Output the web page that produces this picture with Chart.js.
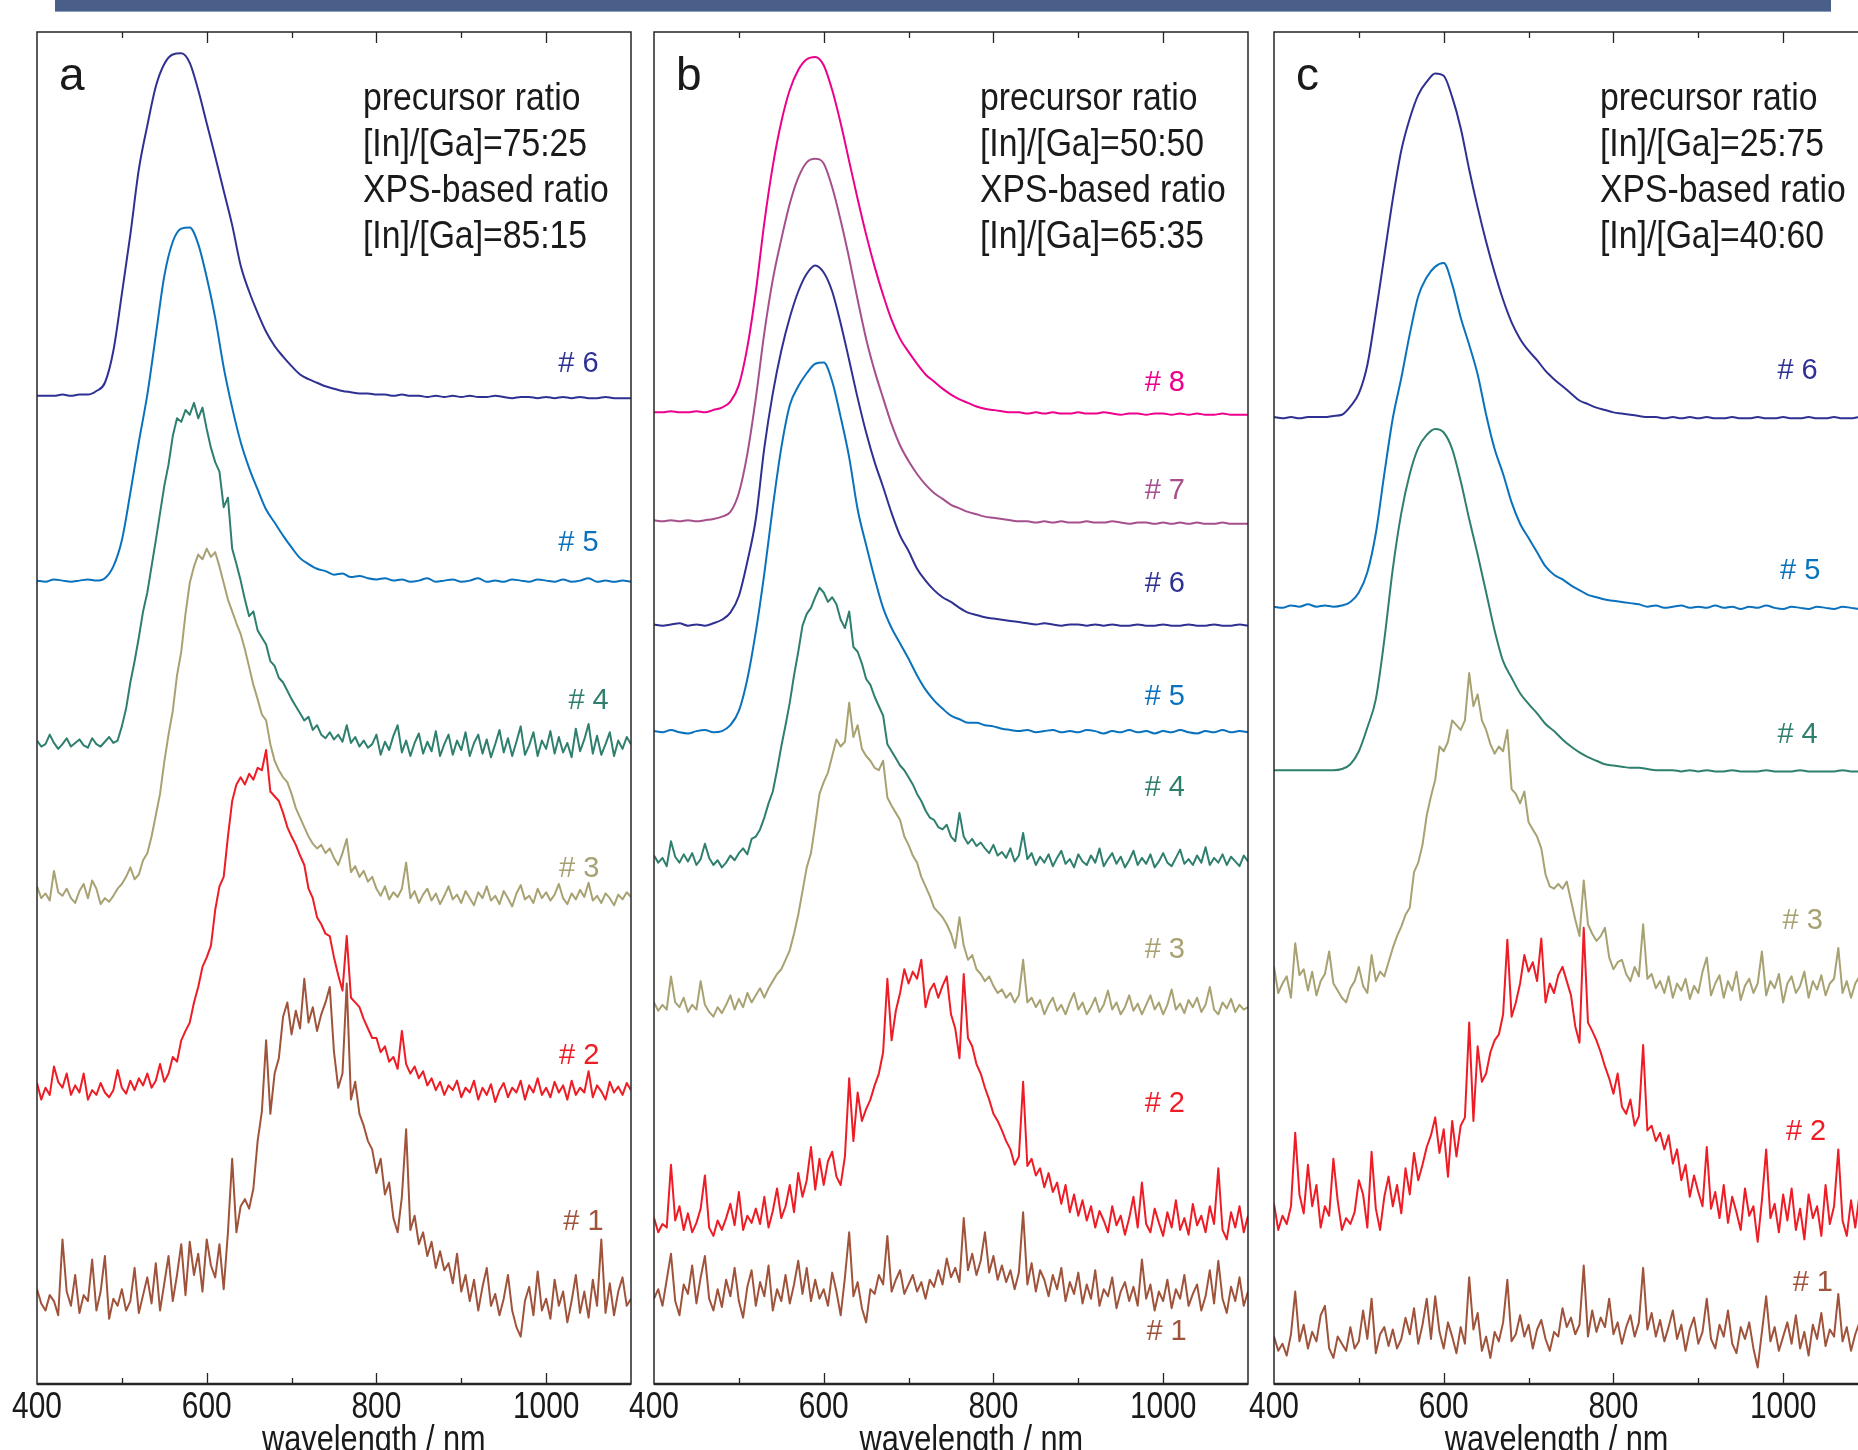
<!DOCTYPE html>
<html>
<head>
<meta charset="utf-8">
<script src="https://cdn.jsdelivr.net/npm/chart.js@4.4.0/dist/chart.umd.min.js"></script>
<style>
  html, body { margin: 0; padding: 0; background: #fff; width: 1858px; height: 1450px; overflow: hidden; }
  body { position: relative; }
  #banner { position: absolute; left: 55px; top: 0; width: 1776px; height: 11px; background: #4a5e8a; border-bottom: 1px solid #8d9cbd; }
  canvas { position: absolute; top: 0; }
</style>
</head>
<body>
<div id="banner"></div>
<canvas id="panelA" width="694" height="1450" style="left:-13px"></canvas>
<canvas id="panelB" width="694" height="1450" style="left:604px"></canvas>
<canvas id="panelC" width="694" height="1450" style="left:1224px"></canvas>
<script>
// wavelength grids (nm)
const wl5 = Array.from({ length: 141 }, (_, i) => 400 + 5 * i);
const wl10 = Array.from({ length: 71 }, (_, i) => 400 + 10 * i);

// PL intensity, arbitrary units, each trace already offset in the stack

// ---- panel a ----
const a6 = [
  834, 834, 834, 835, 834, 835, 835, 838, 845, 872,
  920, 970, 1025, 1062, 1095, 1114, 1122, 1123, 1115, 1092,
  1064, 1036, 1007, 978, 944, 922, 904, 888, 876, 867,
  859, 852, 848, 845, 842, 840, 838, 837, 836, 836,
  835, 835, 834, 835, 834, 834, 833, 834, 833, 834,
  833, 834, 833, 833, 834, 833, 832, 833, 833, 832,
  833, 832, 833, 832, 833, 832, 832, 833, 832, 832,
  832
];
const a5 = [
  678, 677, 679, 678, 677, 678, 679, 678, 680, 690,
  712, 752, 795, 835, 885, 935, 964, 975, 976, 962,
  934, 900, 858, 824, 795, 773, 755, 738, 727, 716,
  706, 697, 692, 688, 686, 683, 684, 681, 682, 680,
  679, 680, 678, 679, 677, 678, 680, 677, 678, 679,
  677, 678, 680, 677, 678, 677, 679, 678, 677, 679,
  678, 677, 679, 677, 678, 680, 677, 678, 677, 678,
  677
];
const a4 = [
  543, 538, 540, 548, 541, 536, 540, 545, 538, 541, 544, 539, 537, 545, 540, 538, 542, 546, 541, 543,
  555, 570, 592, 610, 630, 652, 668, 690, 712, 735, 758, 776, 800, 815, 812, 822, 818, 828, 815, 824,
  806, 790, 778, 770, 740, 748, 705, 692, 678, 662, 648, 652, 636, 630, 624, 610, 606, 596, 592, 585,
  578, 572, 566, 560, 563, 552, 556, 548, 545, 550, 544, 548, 542, 556, 541, 546, 538, 543, 537, 540,
  548, 531, 542, 535, 547, 556, 533, 543, 530, 541, 549, 532, 542, 534, 551, 530, 540, 548, 531, 543,
  535, 550, 530, 541, 548, 532, 544, 529, 540, 552, 533, 545, 530, 542, 555, 531, 539, 550, 530, 543,
  536, 551, 532, 546, 533, 541, 529, 553, 534, 544, 557, 532, 547, 531, 540, 550, 530, 543, 536, 546,
  540
];
const a3 = [
  420, 410, 414, 408, 433, 415, 412, 418, 410, 406, 416, 422, 410, 425, 418, 405, 410, 407, 412, 418,
  422, 428, 436, 426, 430, 442, 448, 462, 480, 498, 525, 548, 568, 598, 618, 650, 676, 690, 700, 696,
  705, 698, 702, 690, 676, 662, 652, 642, 633, 620, 605, 590, 578, 565, 560, 540, 526, 518, 512, 508,
  498, 486, 478, 470, 462, 456, 452, 455, 448, 452, 444, 438, 448, 460, 432, 437, 428, 433, 424, 428,
  418, 412, 420, 409, 415, 411, 418, 440, 410, 416, 406, 413, 418, 408, 414, 405, 412, 420, 409, 413,
  406, 416, 410, 404, 415, 410, 420, 408, 412, 405, 416, 410, 403, 414, 421, 409, 412, 406, 418, 410,
  415, 408, 413, 422, 410, 405, 414, 409, 417, 411, 423, 408, 412, 406, 414, 410, 404, 413, 409, 415,
  411
];
const a2 = [
  254, 240, 250, 244, 268, 255, 250, 262, 244, 252, 246, 262, 240, 248, 244, 254, 246, 242, 248, 265,
  250, 245, 256, 248, 258, 252, 262, 250, 256, 270, 255, 262, 276, 272, 290, 298, 305, 322, 335, 352,
  360, 370, 400, 420, 428, 462, 492, 506, 512, 506, 515, 510, 520, 518, 535, 500, 496, 492, 482, 470,
  462, 455, 446, 438, 418, 410, 394, 388, 380, 378, 360, 345, 332, 378, 326, 322, 318, 308, 300, 292,
  292, 280, 285, 272, 276, 266, 298, 270, 262, 268, 258, 264, 252, 258, 248, 255, 244, 252, 248, 256,
  242, 250, 246, 256, 240, 250, 244, 253, 238, 248, 254, 242, 250, 246, 256, 240, 252, 246, 258, 244,
  250, 242, 255, 246, 252, 240, 256, 244, 250, 246, 264, 242, 252, 247, 240, 255, 246, 251, 244, 254,
  248
];
const a1 = [
  80, 68, 62, 75, 70, 58, 122, 78, 66, 92, 60, 75, 70, 105, 62, 78, 108, 55, 72, 66,
  80, 62, 70, 98, 60, 75, 90, 68, 102, 62, 85, 108, 70, 92, 118, 75, 120, 92, 110, 78,
  122, 100, 90, 118, 80, 128, 190, 128, 150, 156, 148, 165, 205, 230, 290, 228, 262, 275, 310, 322,
  295, 315, 300, 342, 305, 318, 298, 312, 322, 335, 280, 250, 262, 338, 240, 255, 228, 218, 205, 198,
  178, 190, 160, 170, 140, 128, 158, 215, 130, 142, 118, 128, 108, 120, 98, 112, 96, 102, 85, 110,
  78, 92, 70, 88, 62, 82, 98, 66, 76, 58, 72, 92, 62, 48, 40, 70, 82, 58, 95, 62,
  72, 55, 88, 66, 78, 52, 70, 92, 60, 78, 56, 88, 66, 122, 60, 85, 58, 78, 90, 66,
  72
];

// ---- panel b ----
const b8 = [
  820, 820, 821, 820, 820, 821, 820, 822, 824, 829,
  843, 875, 922, 980, 1028, 1065, 1092, 1109, 1118, 1120,
  1113, 1092, 1064, 1032, 1000, 970, 943, 919, 898, 882,
  871, 861, 852, 846, 840, 835, 831, 828, 825, 823,
  822, 821, 820, 820, 819, 820, 819, 820, 819, 819,
  820, 819, 819, 820, 819, 818, 819, 819, 818, 819,
  819, 818, 819, 818, 819, 818, 818, 819, 818, 818,
  818
];
const b7 = [
  729, 728, 729, 728, 729, 728, 729, 730, 732, 736,
  752, 785, 832, 887, 932, 966, 996, 1018, 1031, 1034,
  1030, 1010, 982, 950, 915, 882, 855, 832, 810, 792,
  779, 768, 759, 752, 747, 742, 739, 736, 734, 732,
  731, 730, 729, 728, 728, 727, 728, 727, 728, 727,
  727, 728, 727, 727, 728, 727, 726, 727, 727, 726,
  727, 726, 727, 726, 727, 726, 726, 727, 726, 726,
  726
];
const b6 = [
  641, 640, 641, 642, 640, 641, 640, 642, 645, 651,
  665, 694, 730, 790, 836, 872, 900, 922, 937, 944,
  938, 922, 895, 864, 832, 803, 778, 757, 735, 716,
  703, 688, 678, 670, 664, 660, 655, 651, 649, 647,
  646, 645, 644, 643, 642, 641, 642, 641, 640, 641,
  641, 640, 641, 640, 641, 640, 640, 641, 640, 640,
  641, 640, 640, 641, 640, 640, 641, 640, 640, 641,
  640
];
const b5 = [
  551, 550, 552, 550, 549, 551, 552, 550, 551, 556,
  568, 595, 635, 684, 740, 790, 826, 842, 853, 861,
  862, 846, 816, 782, 738, 708, 680, 655, 638, 625,
  612, 598, 586, 577, 570, 564, 561, 558, 558, 556,
  555, 553, 552, 551, 552, 550, 551, 552, 550, 551,
  550, 552, 551, 549, 551, 550, 552, 550, 551, 549,
  551, 550, 552, 550, 549, 551, 550, 552, 550, 551,
  550
];
const b4 = [
  446, 440, 444, 437, 458, 445, 440, 447, 441, 448, 438, 443, 456, 444, 438, 442, 436, 440, 446, 442,
  448, 452, 447, 460, 462, 468, 478, 490, 500, 518, 538, 556, 575, 598, 618, 640, 650, 655, 664, 672,
  668, 660, 664, 658, 645, 638, 652, 622, 618, 608, 595, 590, 580, 572, 564, 540, 534, 528, 522, 518,
  512, 506, 498, 492, 484, 478, 476, 470, 468, 472, 462, 458, 482, 462, 456, 460, 454, 457, 452, 448,
  455, 446, 449, 444, 452, 441, 446, 465, 443, 448, 438, 445, 440, 447, 437, 444, 450, 439, 443, 436,
  447, 441, 438, 446, 440, 452, 437, 443, 448, 439, 445, 436, 442, 450, 438, 444, 439, 447, 436, 441,
  448, 440, 437, 444, 451, 439, 443, 438, 446, 440, 453, 438, 444, 440, 447, 438, 445, 441, 437, 446,
  441
];
const b3 = [
  322, 315, 320, 316, 344, 322, 318, 326, 314, 320, 316, 340, 320, 314, 310, 318, 313, 320, 328, 316,
  325, 318, 330, 322, 328, 334, 326, 334, 340, 346, 350, 358, 366, 380, 396, 416, 436, 448, 472, 498,
  508, 516, 530, 544, 538, 542, 575, 546, 556, 536, 530, 526, 520, 518, 526, 495, 488, 482, 476, 462,
  455, 446, 440, 428, 420, 412, 402, 398, 394, 388, 380, 368, 394, 370, 358, 362, 350, 346, 340, 344,
  336, 330, 333, 326, 330, 322, 328, 358, 322, 326, 318, 324, 312, 320, 326, 315, 320, 312, 322, 330,
  316, 322, 312, 318, 326, 314, 320, 332, 316, 322, 312, 318, 328, 315, 321, 312, 320, 328, 316, 322,
  312, 320, 333, 316, 321, 313, 324, 318, 326, 314, 320, 335, 316, 312, 322, 317, 325, 314, 320, 316,
  318
];
const b2 = [
  140, 128, 135, 132, 185, 138, 150, 130, 144, 128, 136, 148, 176, 132, 125, 138, 130, 140, 152, 134,
  162, 130, 142, 136, 148, 135, 158, 132, 146, 165, 140, 150, 168, 145, 178, 158, 172, 200, 164, 190,
  168, 188, 196, 175, 168, 192, 258, 205, 246, 222, 232, 240, 252, 262, 280, 342, 290, 315, 330, 350,
  338, 348, 342, 358, 318, 332, 338, 326, 336, 344, 312, 300, 275, 346, 292, 285, 270, 262, 250, 240,
  228, 222, 214, 205, 198, 185, 192, 255, 184, 190, 176, 182, 166, 178, 162, 170, 152, 168, 145, 160,
  142, 155, 138, 150, 132, 146, 138, 128, 150, 134, 142, 126, 140, 158, 132, 170, 135, 128, 148, 136,
  125, 145, 132, 155, 130, 140, 126, 152, 134, 142, 128, 150, 135, 182, 130, 122, 145, 132, 150, 128,
  142
];
const b1 = [
  72, 80, 66, 88, 110, 70, 58, 84, 76, 100, 68, 90, 108, 72, 62, 80, 65, 88, 74, 98,
  70, 56, 82, 96, 66, 86, 74, 100, 62, 80, 70, 92, 68, 84, 104, 76, 98, 70, 88, 72,
  80, 66, 94, 78, 58, 90, 128, 74, 86, 64, 52, 80, 76, 92, 84, 125, 78, 88, 96, 76,
  84, 92, 78, 86, 72, 88, 82, 96, 84, 106, 90, 98, 86, 140, 96, 110, 92, 104, 128, 94,
  108, 88, 100, 86, 96, 80, 94, 145, 84, 102, 78, 96, 88, 74, 92, 80, 98, 70, 86, 76,
  94, 68, 84, 72, 96, 66, 80, 74, 90, 64, 78, 86, 70, 82, 66, 105, 72, 84, 62, 78,
  70, 88, 64, 80, 72, 92, 66, 76, 84, 62, 74, 96, 68, 104, 72, 60, 82, 70, 90, 66,
  78
];

// ---- panel c ----
const c6 = [
  816, 815, 816, 815, 816, 816, 816, 817, 818, 825,
  836, 860, 904, 952, 1000, 1041, 1068, 1088, 1099, 1106,
  1104, 1086, 1060, 1025, 993, 964, 938, 915, 896, 882,
  872, 864, 855, 848, 842, 836, 830, 827, 824, 822,
  820, 819, 818, 817, 816, 816, 815, 816, 815, 816,
  815, 816, 815, 815, 816, 815, 815, 816, 815, 815,
  816, 815, 815, 816, 815, 815, 816, 815, 815, 816,
  815
];
const c5 = [
  656, 655, 657, 656, 658, 656, 657, 656, 657, 660,
  668, 685, 718, 768, 815, 849, 886, 918, 934, 943,
  946, 928, 900, 877, 852, 818, 789, 768, 744, 726,
  714, 702, 690, 683, 679, 674, 670, 666, 664, 662,
  661, 660, 659, 658, 656, 657, 655, 656, 657, 655,
  656, 655, 657, 655, 656, 654, 656, 655, 657, 655,
  654, 656, 655, 654, 656, 655, 654, 656, 655, 654,
  655
];
const c4 = [
  518, 518, 518, 518, 518, 518, 518, 518, 519, 523,
  534, 554, 578, 628, 688, 735, 768, 790, 801, 806,
  803, 789, 762, 730, 700, 668, 636, 610, 596, 583,
  574, 566, 557, 551, 544, 538, 533, 529, 526, 523,
  522, 521, 520, 520, 519, 518, 518, 518, 517, 518,
  517, 518, 517, 517, 518, 517, 517, 517, 518, 517,
  517, 517, 518, 517, 517, 517, 517, 518, 517, 517,
  517
];
const c3 = [
  352, 330, 338, 344, 326, 372, 345, 350, 332, 348, 328, 340, 346, 365, 338, 332, 326, 322, 334, 340,
  352, 336, 330, 362, 340, 348, 344, 356, 368, 378, 386, 396, 402, 432, 440, 455, 480, 496, 510, 538,
  534, 542, 560, 556, 552, 560, 600, 572, 582, 560, 552, 540, 532, 538, 534, 552, 502, 498, 490, 500,
  474, 468, 462, 452, 430, 420, 418, 422, 418, 424, 408, 392, 378, 425, 388, 380, 374, 378, 385, 360,
  350, 356, 358, 346, 340, 352, 344, 388, 342, 346, 334, 340, 330, 344, 326, 338, 332, 342, 325, 336,
  330, 348, 360, 328, 338, 345, 326, 340, 332, 348, 324, 336, 342, 330, 338, 365, 328, 340, 334, 346,
  322, 338, 344, 330, 336, 348, 326, 340, 333, 345, 328, 338, 342, 368, 330, 340, 326, 338, 344, 330,
  336
];
const c2 = [
  152, 130, 142, 135, 150, 212, 160, 144, 185, 150, 168, 132, 150, 142, 190, 155, 130, 140, 135, 145,
  172, 160, 132, 196, 148, 130, 158, 175, 150, 168, 144, 182, 160, 195, 172, 185, 200, 210, 225, 195,
  215, 175, 222, 192, 218, 225, 305, 222, 285, 255, 262, 280, 290, 295, 312, 375, 310, 322, 338, 362,
  348, 356, 340, 376, 322, 338, 330, 345, 352, 340, 328, 302, 288, 385, 305, 298, 290, 280, 268, 258,
  245, 262, 234, 228, 240, 218, 226, 286, 214, 218, 205, 212, 198, 210, 186, 198, 172, 185, 158, 176,
  162, 150, 200, 148, 162, 140, 168, 136, 158, 145, 130, 165, 142, 150, 120, 155, 198, 140, 152, 128,
  160, 138, 165, 130, 148, 122, 160, 140, 150, 125, 168, 135, 150, 198, 138, 125, 155, 132, 160, 140,
  148
];
const c1 = [
  40, 28, 34, 24, 42, 78, 36, 50, 30, 44, 36, 58, 66, 30, 22, 40, 34, 28, 48, 30,
  36, 62, 38, 72, 26, 42, 48, 32, 46, 30, 38, 56, 42, 64, 34, 50, 72, 38, 74, 44,
  30, 52, 40, 26, 48, 34, 90, 46, 60, 28, 40, 22, 44, 36, 52, 88, 36, 42, 58, 40,
  50, 30, 46, 54, 38, 28, 44, 40, 64, 48, 56, 42, 50, 100, 40, 62, 44, 56, 48, 72,
  42, 52, 34, 48, 58, 40, 52, 98, 46, 60, 40, 54, 36, 48, 62, 38, 50, 28, 46, 56,
  34, 44, 72, 38, 30, 50, 40, 62, 34, 26, 48, 38, 52, 30, 14, 44, 74, 36, 48, 28,
  40, 52, 34, 58, 30, 44, 24, 50, 38, 60, 32, 46, 40, 76, 36, 48, 28, 42, 52, 34,
  44
];

// annotation text per panel
const notesA = ['precursor ratio', '[In]/[Ga]=75:25', 'XPS-based ratio', '[In]/[Ga]=85:15'];
const notesB = ['precursor ratio', '[In]/[Ga]=50:50', 'XPS-based ratio', '[In]/[Ga]=65:35'];
const notesC = ['precursor ratio', '[In]/[Ga]=25:75', 'XPS-based ratio', '[In]/[Ga]=40:60'];
const xTicks = [500, 600, 700, 800, 900, 1000];

const col = {
  navy: '#2e3192', blue: '#0a72bd', teal: '#2f7f6e', khaki: '#a8a273',
  red: '#ee1c25', brown: '#a0533b', pink: '#ec008c', mauve: '#a5508d'
};
const sans = "'Liberation Sans', Arial, sans-serif";
// the original lettering is a condensed Helvetica
const squeeze = 0.83;
const noteSqueeze = 0.865;

// draw text squeezed horizontally around its anchor
function narrowText(ctx, text, x, y, align, k) {
  ctx.save();
  ctx.translate(x, y);
  ctx.scale(k, 1);
  ctx.textAlign = align;
  ctx.fillText(text, 0, 0);
  ctx.restore();
}

// tag = where the "# n" label sits, in data units
const panels = [
  { id: 'panelA', letter: 'a', notes: notesA, titleAt: 797, series: [
    { name: '# 6', grid: wl10, values: a6, color: col.navy, tag: [1038, 861] },
    { name: '# 5', grid: wl10, values: a5, color: col.blue, tag: [1038, 710] },
    { name: '# 4', grid: wl5, values: a4, color: col.teal, tag: [1050, 576] },
    { name: '# 3', grid: wl5, values: a3, color: col.khaki, tag: [1039, 435] },
    { name: '# 2', grid: wl5, values: a2, color: col.red, tag: [1039, 277] },
    { name: '# 1', grid: wl5, values: a1, color: col.brown, tag: [1044, 137] }
  ] },
  { id: 'panelB', letter: 'b', notes: notesB, titleAt: 774, series: [
    { name: '# 8', grid: wl10, values: b8, color: col.pink, tag: [1002, 845] },
    { name: '# 7', grid: wl10, values: b7, color: col.mauve, tag: [1002, 754] },
    { name: '# 6', grid: wl10, values: b6, color: col.navy, tag: [1002, 675] },
    { name: '# 5', grid: wl10, values: b5, color: col.blue, tag: [1002, 580] },
    { name: '# 4', grid: wl5, values: b4, color: col.teal, tag: [1002, 503] },
    { name: '# 3', grid: wl5, values: b3, color: col.khaki, tag: [1002, 366] },
    { name: '# 2', grid: wl5, values: b2, color: col.red, tag: [1002, 236] },
    { name: '# 1', grid: wl5, values: b1, color: col.brown, tag: [1004, 44] }
  ] },
  { id: 'panelC', letter: 'c', notes: notesC, titleAt: 733, series: [
    { name: '# 6', grid: wl10, values: c6, color: col.navy, tag: [1017, 855] },
    { name: '# 5', grid: wl10, values: c5, color: col.blue, tag: [1020, 686] },
    { name: '# 4', grid: wl10, values: c4, color: col.teal, tag: [1017, 548] },
    { name: '# 3', grid: wl5, values: c3, color: col.khaki, tag: [1023, 391] },
    { name: '# 2', grid: wl5, values: c2, color: col.red, tag: [1027, 213] },
    { name: '# 1', grid: wl5, values: c1, color: col.brown, tag: [1035, 85] }
  ] }
];

function makePanel(p) {
  const decorations = {
    id: 'decorations',
    beforeDraw(chart) {
      // squeeze the x tick labels the same way as the other lettering
      const s = chart.scales.x;
      if (s.$narrow) return;
      s.$narrow = true;
      s.drawLabels = function (area) {
        const ctx = this.ctx;
        this.getLabelItems(area).forEach(item => {
          const o = item.options;
          ctx.save();
          ctx.font = item.font.string;
          ctx.fillStyle = o.color;
          ctx.textBaseline = o.textBaseline;
          ctx.translate(o.translation[0], o.translation[1]);
          ctx.scale(squeeze, 1);
          ctx.textAlign = o.textAlign;
          ctx.fillText(item.label, 0, item.textOffset);
          ctx.restore();
        });
      };
    },
    afterDatasetsDraw(chart) {
      // frame, inward ticks, trace tags, notes and axis title
      const { ctx, chartArea: area, scales: { x, y } } = chart;
      ctx.save();
      ctx.strokeStyle = '#262626';
      ctx.lineWidth = 1.5;
      ctx.strokeRect(area.left, area.top, area.width, area.height);
      ctx.lineWidth = 2.5;
      ctx.beginPath();
      ctx.moveTo(area.left, area.bottom);
      ctx.lineTo(area.right, area.bottom);
      ctx.stroke();

      ctx.lineWidth = 1.3;
      xTicks.forEach(v => {
        const px = Math.round(x.getPixelForValue(v)) + 0.5;
        const len = v % 200 === 0 ? 11 : 6;
        ctx.beginPath();
        ctx.moveTo(px, area.top);
        ctx.lineTo(px, area.top + len);
        ctx.moveTo(px, area.bottom);
        ctx.lineTo(px, area.bottom - len);
        ctx.stroke();
      });

      ctx.font = '29px ' + sans;
      ctx.textAlign = 'center';
      ctx.textBaseline = 'middle';
      p.series.forEach(s => {
        ctx.fillStyle = s.color;
        ctx.fillText(s.name, x.getPixelForValue(s.tag[0]), y.getPixelForValue(s.tag[1]));
      });

      ctx.fillStyle = '#1a1a1a';
      ctx.textAlign = 'left';
      ctx.textBaseline = 'alphabetic';
      ctx.font = '46px ' + sans;
      ctx.fillText(p.letter, area.left + 22, area.top + 58);
      ctx.font = '39px ' + sans;
      p.notes.forEach((t, i) => narrowText(ctx, t, area.left + 326, area.top + 78 + 46 * i, 'left', noteSqueeze));

      ctx.font = '37px ' + sans;
      narrowText(ctx, 'wavelength / nm', x.getPixelForValue(p.titleAt), 1451, 'center', squeeze);
      ctx.restore();
    }
  };

  return new Chart(document.getElementById(p.id), {
    type: 'line',
    data: {
      datasets: p.series.map(s => ({
        label: s.name,
        data: s.values.map((v, i) => ({ x: s.grid[i], y: v })),
        borderColor: s.color,
        borderWidth: 2,
        borderJoinStyle: 'round',
        pointRadius: 0,
        // the 10 nm traces are smooth spectra; the 5 nm ones are noisy
        cubicInterpolationMode: s.grid === wl10 ? 'monotone' : 'default',
        tension: 0,
        fill: false
      }))
    },
    options: {
      responsive: false,
      animation: false,
      devicePixelRatio: 1,
      layout: { padding: { left: 50, right: 50, top: 32, bottom: 26 } },
      plugins: { legend: { display: false }, tooltip: { enabled: false } },
      scales: {
        x: {
          type: 'linear',
          min: 400,
          max: 1100,
          grid: { display: false, drawTicks: false },
          border: { display: false },
          ticks: {
            stepSize: 200,
            includeBounds: false,
            padding: 2,
            color: '#1a1a1a',
            font: { family: sans, size: 36 },
            callback: v => String(v)
          },
          afterFit: scale => { scale.height = 40; }
        },
        y: { display: false, min: 0, max: 1141 }
      }
    },
    plugins: [decorations]
  });
}

panels.forEach(makePanel);
</script>
</body>
</html>
